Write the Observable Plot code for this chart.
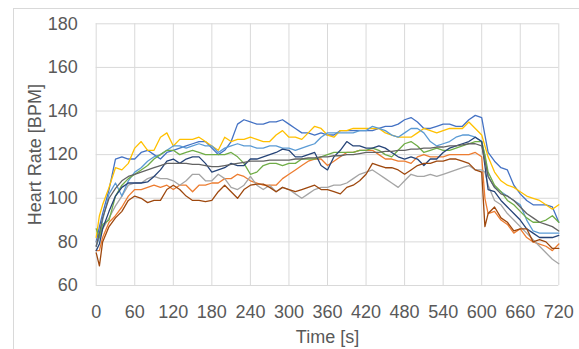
<!DOCTYPE html>
<html><head><meta charset="utf-8">
<script src="https://cdn.jsdelivr.net/npm/d3@7"></script>
<script src="https://cdn.jsdelivr.net/npm/@observablehq/plot@0.6"></script>
<style>
html,body{margin:0;padding:0;background:#fff;}
#wrap{position:relative;width:579px;height:349px;overflow:hidden;background:#fff;}
#border{position:absolute;left:13px;top:8px;width:620px;height:420px;border:1px solid #d9d9d9;box-sizing:border-box;}
#chart{position:absolute;left:0;top:0;}
</style></head><body>
<div id="wrap"><div id="border"></div><div id="chart"></div></div>
<script>
// sample times [s]
const time = [0, 5, 10, 20, 30, 40, 50, 60, 70, 80, 90, 100,
  110, 120, 130, 140, 150, 160, 170, 180, 190, 200,
  210, 220, 230, 240, 250, 260, 270, 280, 290, 300,
  310, 320, 330, 340, 350, 360, 370, 380, 390, 400,
  410, 420, 430, 440, 450, 460, 470, 480, 490, 500,
  510, 520, 530, 540, 550, 560, 570, 580, 590, 600,
  605,
  610, 620, 630, 640, 650, 660, 670, 680, 690, 700, 710, 720];

// heart rate [BPM], one array per subject
const s1 = [80, 87,
  93, 104, 118, 119, 118, 118, 121, 122, 120, 118,
  121, 122, 123, 124, 125, 126, 126, 123, 120, 122,
  126, 134, 136, 135, 134, 134, 135, 135, 136, 134,
  132, 130, 130, 129, 130, 129, 129, 131, 131, 131,
  131, 131, 131, 132, 133, 133, 134, 136, 137, 135,
  132, 132, 133, 134, 134, 133, 133, 136, 138, 137,
  129,
  121, 117, 114, 113, 106, 102, 99, 97, 97, 97, 96, 89];
const s2 = [76, 76,
  82, 89, 92, 96, 101, 104, 104, 105, 106, 105,
  106, 104, 106, 106, 103, 106, 106, 107, 107, 109,
  109, 111, 110, 108, 107, 106, 106, 106, 109, 111,
  113, 115, 117, 118, 118, 115, 117, 119, 121, 121,
  122, 122, 122, 120, 118, 118, 117, 117, 116, 119,
  120, 119, 119, 119, 120, 120, 120, 120, 121, 119,
  100,
  93, 94, 90, 88, 84, 86, 82, 80, 79, 78, 76, 79];
const s3 = [80, 82,
  86, 91, 96.5, 101, 106, 107, 107, 109, 110, 109,
  109, 108, 106, 108, 111, 111, 108, 108, 111, 109,
  105, 104, 106, 110, 106, 104, 106, 103, 105, 104,
  102, 100, 102, 104, 105, 105, 106, 106, 107, 109,
  111, 112, 113, 111, 109, 107, 105, 108, 111, 110,
  110, 111, 110, 111, 112, 113, 114, 115, 113, 113,
  112,
  106, 99, 97, 93, 90, 87, 84, 81, 78, 75, 72, 70];
const s4 = [82, 92,
  97, 105, 114, 113, 116, 123, 126, 122, 122, 128,
  130, 124, 127, 127, 127, 128, 126, 124, 122, 128,
  126, 127, 127, 128, 127, 126, 126, 129, 131, 128,
  128, 127, 130, 133, 132, 129, 128, 131, 131, 132,
  132, 132, 132, 132, 130, 129, 128, 128, 128, 130,
  132, 131, 130, 131, 132, 132, 132, 135, 132, 129,
  124,
  119, 112, 108, 106, 105, 103, 101, 100, 99, 97, 95, 97];
const s5 = [78, 82,
  90, 102, 107, 101, 108, 112, 114, 117, 119, 120,
  122, 124, 124, 123, 124, 125, 124, 124, 121, 123,
  124, 125, 124, 124, 123, 123, 124, 124, 123, 123,
  122, 123, 124, 125, 128, 130, 130, 130, 130, 130,
  131, 131, 133, 132, 131, 129, 128, 130, 132, 132,
  130, 126, 124, 125, 126, 128, 129, 129, 128, 126,
  119,
  110, 105, 103, 101, 99, 97, 90, 85, 84, 84, 84, 84];
const s6 = [86, 82,
  88, 90, 101, 106, 109, 111, 113, 115, 118, 120,
  122, 122, 120, 121, 122, 121, 120, 120, 120, 120,
  121, 119, 116, 111, 112, 115, 116, 116, 115, 116,
  116, 118, 118, 118, 119, 120, 121, 121, 121, 121,
  122, 122, 123, 122, 120, 119, 122, 125, 126, 124,
  121, 122, 123, 122, 122, 123, 124, 125, 126, 126,
  120,
  112, 106, 103, 99, 97, 94, 91, 89, 89, 90, 92, 89];
const s7 = [76, 79,
  86, 94, 101, 105, 107, 107, 107, 107.5, 110, 113,
  117, 118, 116, 118, 119, 119, 116, 112, 113, 114,
  116, 115, 115, 118, 118, 119, 120, 121, 122.5, 122,
  119, 119, 120, 121, 115, 113, 119, 122, 126, 124,
  124, 123, 123, 124, 123, 121, 119, 118, 119, 118,
  115, 118, 118, 121, 123, 124, 125, 126, 128, 126,
  115,
  104, 103, 99, 96, 93, 90, 86, 84, 82, 82, 82, 83];
const s8 = [75, 69,
  80, 87, 91, 94, 99, 101, 100, 98, 99, 99,
  104, 106, 104, 101, 99, 99, 98.5, 99, 103, 106,
  103, 100, 104, 106, 106.5, 106.5, 105, 103, 105, 104,
  103, 104, 105, 106, 104, 104, 103, 102, 105, 106,
  108, 111, 116, 115, 114, 114, 113, 111, 113, 115,
  116, 116, 117, 117, 118, 118, 117, 116, 113, 112,
  87,
  93, 96, 91, 89, 85, 86, 86, 80, 81, 80, 77, 77];
const s9 = [78, 84,
  91, 100, 104.5, 108, 110, 111, 112, 113, 114, 115,
  116, 116, 116, 116, 115.5, 115.5, 115, 114.5, 114.5, 115,
  115.5, 116, 116.5, 117, 117, 117, 117.5, 117.5, 117.5, 117.5,
  118, 118, 118.5, 118.5, 119, 119, 119.5, 119.5, 120, 120,
  120.5, 121, 121, 121, 121.5, 121.5, 122, 122, 122.5, 122.5,
  123, 123, 123.5, 123.5, 124, 124, 124.5, 125, 125, 124,
  117,
  110, 105, 102, 101, 99, 96, 93, 91, 89, 88, 87, 85];

const seriesNames = ["S1", "S2", "S3", "S4", "S5", "S6", "S7", "S8", "S9"];
const seriesValues = [s1, s2, s3, s4, s5, s6, s7, s8, s9];
const seriesColors = ["#4472C4", "#ED7D31", "#A5A5A5", "#FFC000", "#5B9BD5", "#70AD47", "#264478", "#9E480E", "#636363"];

const xTicks = [0, 60, 120, 180, 240, 300, 360, 420, 480, 540, 600, 660, 720];
const yTicks = [60, 80, 100, 120, 140, 160, 180];
const xTitle = "Time [s]";
const yTitle = "Heart Rate [BPM]";

const rows = seriesNames.flatMap((name, k) =>
  time.map((t, i) => ({t, v: seriesValues[k][i], name})));

const chart = Plot.plot({
  width: 579,
  height: 349,
  marginLeft: 95.7,
  marginRight: 20.7,
  marginTop: 23.3,
  marginBottom: 64,
  style: {fontFamily: "'Liberation Sans', Arial, sans-serif", fontSize: "18px", color: "#595959", background: "transparent"},
  x: {domain: [0, 720]},
  y: {domain: [60, 180]},
  color: {domain: seriesNames, range: seriesColors},
  marks: [
    Plot.gridX(xTicks, {stroke: "#d9d9d9", strokeOpacity: 1, strokeWidth: 1}),
    Plot.gridY(yTicks, {stroke: "#d9d9d9", strokeOpacity: 1, strokeWidth: 1}),
    Plot.axisX(xTicks, {tickSize: 0, tickPadding: 20, label: null}),
    Plot.axisY(yTicks, {tickSize: 0, tickPadding: 18.4, label: null}),
    Plot.line(rows, {x: "t", y: "v", z: "name", stroke: "name", strokeWidth: 1.3}),
    Plot.text([xTitle], {text: d => d, frameAnchor: "bottom", textAnchor: "middle", dy: 52, lineAnchor: "middle"}),
    Plot.text([yTitle], {text: d => d, frameAnchor: "left", textAnchor: "middle", rotate: -90, dx: -60.7, lineAnchor: "middle"})
  ]
});
document.getElementById("chart").appendChild(chart);
</script>
</body></html>
